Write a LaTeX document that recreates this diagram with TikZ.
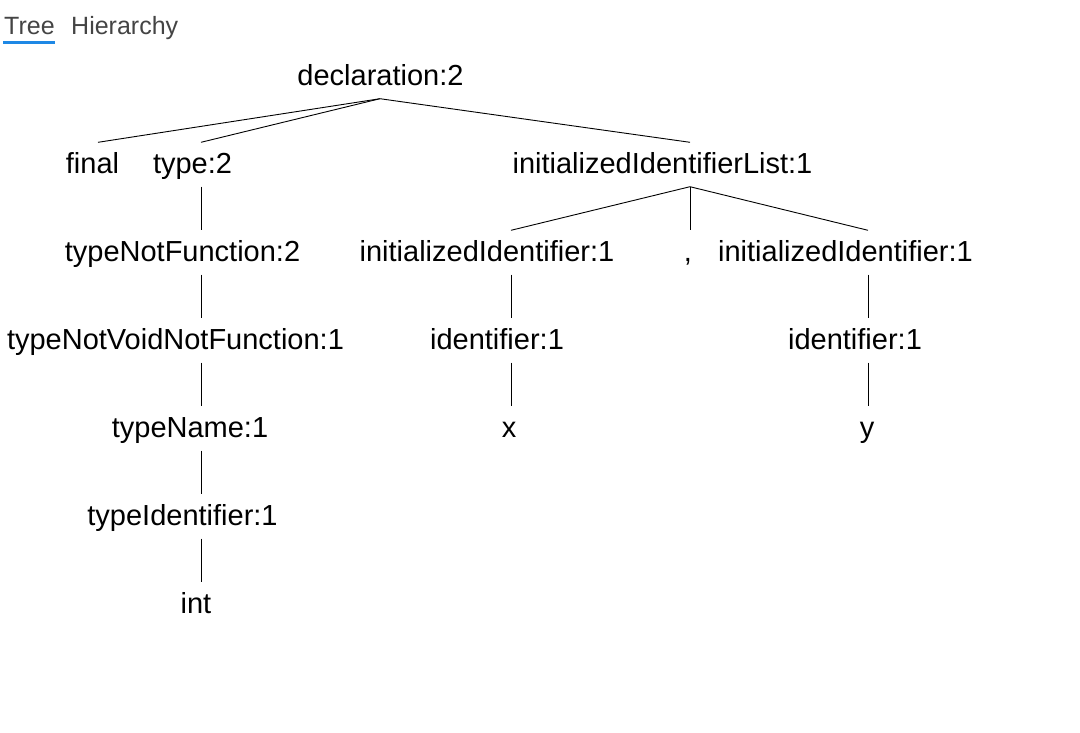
\documentclass[tikz,border=0pt]{standalone}
\usepackage{fontspec}
\setmainfont{Liberation Sans}

\definecolor{tabblue}{HTML}{1E88E5}
\definecolor{tabgray}{HTML}{444444}

\newcommand*{\wmax}{1080}
\newcommand*{\hmax}{732}

\begin{document}
\begin{tikzpicture}
[
	x=1pt, y=-1pt,
	tnode/.style={anchor=base,inner xsep=0pt,inner ysep=8.5pt,text height=22pt,text depth=5pt,font=\fontsize{29}{34}\selectfont},
	tab/.style={anchor=base west,inner sep=0pt,text=tabgray,font=\fontsize{25}{30}\selectfont},
	branch/.style={line width=0.9pt}
]

	\useasboundingbox (0,0) rectangle (\wmax,\hmax);

	% tabs
	\node[tab] (tree) at (4,34) {Tree};
	\node[tab] (hier) at (71,34) {Hierarchy};
	\fill[tabblue] (3,41) rectangle (55,44);

	% columns where the branches meet
	\coordinate (cdecl) at (380,0);
	\coordinate (cfinal) at (98,0);
	\coordinate (ctype) at (201,0);
	\coordinate (clist) at (690,0);
	\coordinate (cleft) at (511,0);
	\coordinate (cright) at (868,0);

	% root
	\node[tnode] (decl) at (380.5,85) {declaration:2};

	% second row
	\node[tnode] (final) at (92.5,173) {final};
	\node[tnode] (type) at (192.5,173) {type:2};
	\node[tnode] (list) at (662.5,173) {initializedIdentifierList:1};

	% type branch
	\node[tnode] (tnf) at (182.5,261) {typeNotFunction:2};
	\node[tnode] (tnvnf) at (175.5,349) {typeNotVoidNotFunction:1};
	\node[tnode] (tname) at (190,437) {typeName:1};
	\node[tnode] (tident) at (182.5,525) {typeIdentifier:1};
	\node[tnode] (int) at (196,613) {int};

	% identifier branches
	\node[tnode] (initl) at (487,261) {initializedIdentifier:1};
	\node[tnode] (comma) at (688,261) {,};
	\node[tnode] (initr) at (845.5,261) {initializedIdentifier:1};
	\node[tnode] (identl) at (497,349) {identifier:1};
	\node[tnode] (identr) at (855,349) {identifier:1};
	\node[tnode] (x) at (509,437) {x};
	\node[tnode] (y) at (867,437) {y};

	% branches
	\draw[branch] (decl.south -| cdecl) -- (final.north -| cfinal);
	\draw[branch] (decl.south -| cdecl) -- (type.north -| ctype);
	\draw[branch] (decl.south -| cdecl) -- (list.north -| clist);

	\draw[branch] (type.south -| ctype) -- (tnf.north -| ctype);
	\draw[branch] (tnf.south -| ctype) -- (tnvnf.north -| ctype);
	\draw[branch] (tnvnf.south -| ctype) -- (tname.north -| ctype);
	\draw[branch] (tname.south -| ctype) -- (tident.north -| ctype);
	\draw[branch] (tident.south -| ctype) -- (int.north -| ctype);

	\draw[branch] (list.south -| clist) -- (initl.north -| cleft);
	\draw[branch] (list.south -| clist) -- (comma.north -| clist);
	\draw[branch] (list.south -| clist) -- (initr.north -| cright);

	\draw[branch] (initl.south -| cleft) -- (identl.north -| cleft);
	\draw[branch] (identl.south -| cleft) -- (x.north -| cleft);
	\draw[branch] (initr.south -| cright) -- (identr.north -| cright);
	\draw[branch] (identr.south -| cright) -- (y.north -| cright);

\end{tikzpicture}
\end{document}
